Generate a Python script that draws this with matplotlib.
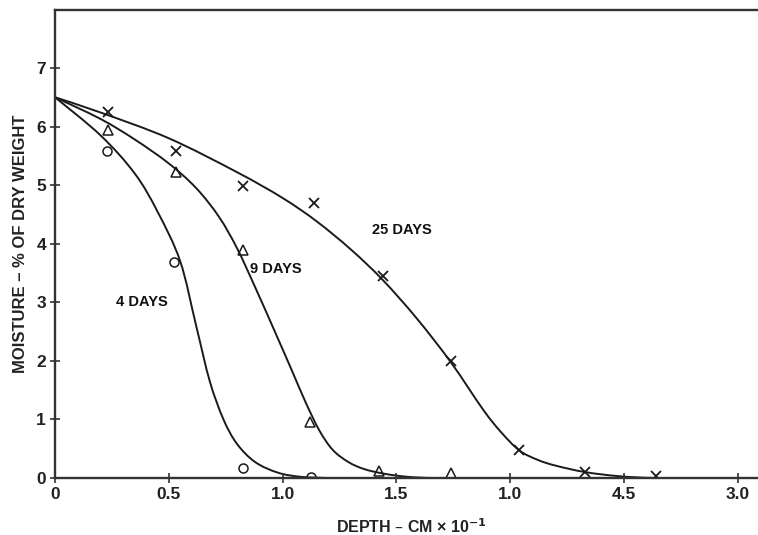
import matplotlib
matplotlib.use("Agg")
import matplotlib.pyplot as plt
import numpy as np
from matplotlib.path import Path
from matplotlib.patches import PathPatch

# Measured points
x_pts = [0.235, 0.53, 0.826, 1.137, 1.44, 1.74, 2.04, 2.33, 2.64]
days25_y = [6.25, 5.58, 4.99, 4.69, 3.45, 2.0, 0.47, 0.11, 0.04]

tri_x = [0.234, 0.531, 0.824, 1.12, 1.423, 1.74]
days9_y = [5.94, 5.22, 3.89, 0.96, 0.12, 0.08]

circ_x = [0.227, 0.523, 0.826, 1.123]
days4_y = [5.59, 3.69, 0.17, 0.02]

# Drawn curves
c4_x = [0.0, 0.2, 0.35, 0.45, 0.55, 0.62, 0.68, 0.74, 0.80, 0.88, 0.98, 1.08, 1.2]
c4_y = [6.5, 5.85, 5.2, 4.55, 3.7, 2.6, 1.65, 1.0, 0.58, 0.27, 0.09, 0.02, 0.0]

c9_x = [0.0, 0.2, 0.35, 0.5, 0.62, 0.72, 0.80, 0.88, 0.96, 1.04, 1.10, 1.16, 1.22, 1.29, 1.36, 1.45, 1.55, 1.66, 1.8]
c9_y = [6.5, 6.13, 5.78, 5.37, 4.95, 4.46, 3.92, 3.25, 2.55, 1.84, 1.30, 0.82, 0.48, 0.27, 0.15, 0.07, 0.02, 0.0, 0.0]

c25_x = [0.0, 0.2, 0.5, 0.8, 1.0, 1.15, 1.3, 1.44, 1.59, 1.74, 1.88, 1.96, 2.04, 2.12, 2.2, 2.33, 2.48, 2.64, 2.9]
c25_y = [6.5, 6.24, 5.8, 5.22, 4.78, 4.38, 3.9, 3.38, 2.72, 1.97, 1.17, 0.78, 0.47, 0.31, 0.21, 0.10, 0.03, 0.0, 0.0]

xticks = [0, 0.5, 1.0, 1.5, 2.0, 2.5, 3.0]
xtick_labels = ["0", "0.5", "1.0", "1.5", "1.0", "4.5", "3.0"]
yticks = [0, 1, 2, 3, 4, 5, 6, 7]

plt.rcParams['font.family'] = ['Liberation Sans', 'DejaVu Sans']

fig = plt.figure(figsize=(7.58, 5.35), dpi=100)
ax = fig.add_axes([55/758, 57/535, 1 - 55/758, (478-10)/535])
XMAX, YMAX = 3.088, 7.99
ax.set_xlim(0, XMAX)
ax.set_ylim(0, YMAX)

lc = '#1a1a1a'


def smooth_path(xs, ys):
    # Catmull-Rom through the read points, drawn as cubic Bezier segments
    sx, sy = 703.0 / XMAX, 468.0 / YMAX
    P = np.column_stack([np.asarray(xs) * sx, np.asarray(ys) * sy])
    verts = [tuple(P[0])]
    codes = [Path.MOVETO]
    n = len(P)
    for i in range(n - 1):
        p0 = P[i - 1] if i > 0 else P[i]
        p1, p2 = P[i], P[i + 1]
        p3 = P[i + 2] if i + 2 < n else P[i + 1]
        c1 = p1 + (p2 - p0) / 6.0
        c2 = p2 - (p3 - p1) / 6.0
        verts += [tuple(c1), tuple(c2), tuple(p2)]
        codes += [Path.CURVE4] * 3
    V = np.array(verts)
    V[:, 0] /= sx
    V[:, 1] /= sy
    return Path(V, codes)


for cx, cy in [(c4_x, c4_y), (c9_x, c9_y), (c25_x, c25_y)]:
    ax.add_patch(PathPatch(smooth_path(cx, cy), fill=False, edgecolor=lc, lw=1.4))

ax.plot(x_pts, days25_y, ls='none', marker='x', ms=6.5, mew=1.3, color=lc)
ax.plot(tri_x, days9_y, ls='none', marker='^', ms=6.5, mew=1.1, mfc='none', mec=lc)
ax.plot(circ_x, days4_y, ls='none', marker='o', ms=6.5, mew=1.1, mfc='none', mec=lc)

ax.text(0.382, 3.0, "4 DAYS", fontsize=10.5, fontweight='bold', ha='center', va='center', color='#111')
ax.text(0.971, 3.57, "9 DAYS", fontsize=10.5, fontweight='bold', ha='center', va='center', color='#111')
ax.text(1.524, 4.23, "25 DAYS", fontsize=10.5, fontweight='bold', ha='center', va='center', color='#111')

ax.set_xticks(xticks)
ax.set_xticklabels(xtick_labels)
ax.set_yticks(yticks)

for s in ['left', 'top', 'bottom']:
    ax.spines[s].set_linewidth(1.7)
    ax.spines[s].set_color('#333333')
ax.spines['right'].set_visible(False)

ax.tick_params(axis='both', direction='inout', length=7, width=1.2, color='#333333',
               labelsize=12.5, labelcolor='#222')
ax.tick_params(axis='x', pad=3)
ax.tick_params(axis='y', pad=3)
for lab in ax.get_xticklabels() + ax.get_yticklabels():
    lab.set_fontweight('bold')

ax.set_xlabel("DEPTH – CM × 10$^{\\mathbf{-1}}$", fontsize=11.5, fontweight='bold', color='#222', labelpad=6)
ax.xaxis.set_label_coords(0.507, -0.085)
ax.set_ylabel("MOISTURE – % OF DRY WEIGHT", fontsize=12, fontweight='bold', color='#222', labelpad=6)

fig.savefig("out.png", dpi=100)
